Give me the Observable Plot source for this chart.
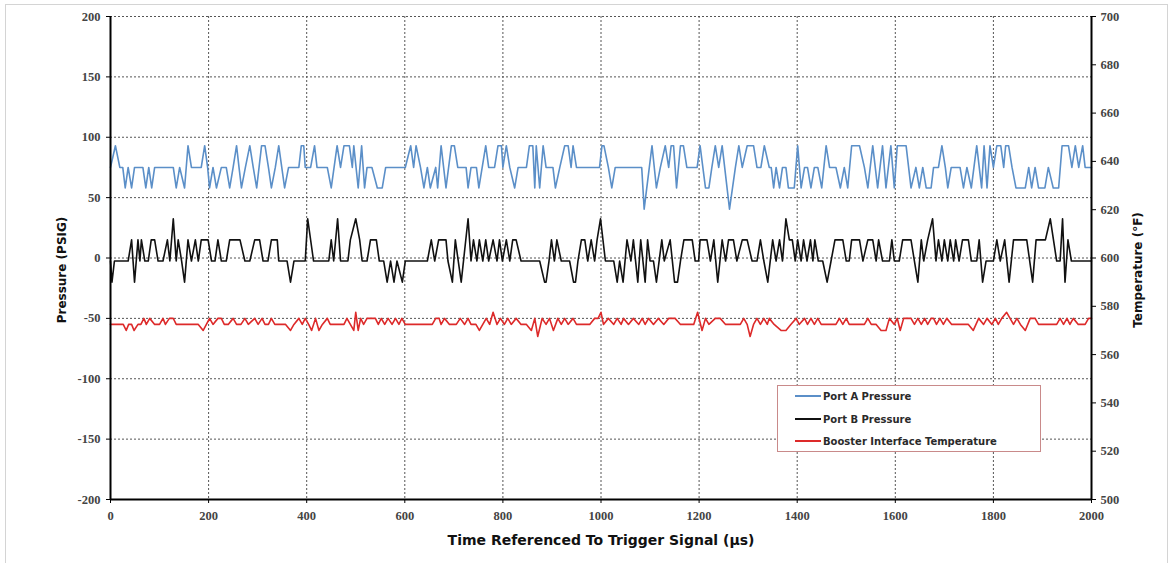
<!DOCTYPE html>
<html>
<head>
<meta charset="utf-8">
<script src="https://cdn.jsdelivr.net/npm/d3@7"></script>
<script src="https://cdn.jsdelivr.net/npm/@observablehq/plot@0.6"></script>
<style>
  html, body { margin: 0; padding: 0; background: #fff; }
  #wrap { position: relative; width: 1172px; height: 563px; overflow: hidden; }
  #frame { position: absolute; left: 5px; top: 4px; width: 1161px; height: 570px; border: 1px solid #d4d4d4; pointer-events: none; }
  #legend { position: absolute; left: 777px; top: 385px; width: 264px; height: 67px; background: #fff; border: 1px solid #c98a8a; box-sizing: border-box;
            font-family: "DejaVu Sans", Verdana, sans-serif; font-size: 10px; font-weight: bold; color: #2a2a2a; }
  .item { position: absolute; left: 17px; height: 12px; line-height: 12px; white-space: nowrap; }
  .sw { display: inline-block; width: 26px; height: 0; border-top: 2px solid; vertical-align: middle; margin-right: 2px; position: relative; top: -1px; }
</style>
</head>
<body>
<div id="wrap">
  <div id="chart"></div>
  <div id="frame"></div>
  <div id="legend"></div>
</div>
<script>
// ---- Data (time in µs, pressure in PSIG, temperature in °F), vertices ----
const seriesNames = ["Port A Pressure", "Port B Pressure", "Booster Interface Temperature"];
const seriesColors = ["#5b8fc8", "#111111", "#dd2a2a"];

const xTicks = [0, 200, 400, 600, 800, 1000, 1200, 1400, 1600, 1800, 2000];
const pressureTicks = [-200, -150, -100, -50, 0, 50, 100, 150, 200];
const temperatureTicks = [500, 520, 540, 560, 580, 600, 620, 640, 660, 680, 700];

const portA = [
  [0,75],[10,93],[19,75],[25,75],[30,58],[36,75],[43,58],[49,75],[66,75],[72,58],[78,75],[84,58],[90,75],
  [128,75],[134,58],[141,75],[151,58],[158,93],[165,75],[185,75],[192,93],[198,75],[202,58],[209,75],[216,58],
  [226,75],[236,75],[243,58],[250,75],[257,93],[262,75],[267,58],[275,75],[284,93],[291,75],[298,58],[308,93],
  [315,93],[322,75],[328,58],[336,75],[343,93],[355,58],[363,75],[384,75],[389,93],[394,93],[397,75],[408,75],
  [416,93],[421,75],[442,75],[450,58],[462,93],[469,75],[476,93],[487,93],[493,75],[496,93],[505,58],[512,93],
  [518,58],[523,75],[533,75],[544,58],[554,58],[561,75],[601,75],[612,93],[618,75],[623,93],[632,75],[639,58],
  [646,75],[652,58],[663,75],[667,58],[674,93],[684,58],[695,93],[701,93],[708,75],[725,75],[729,58],[735,75],
  [746,75],[751,58],[765,93],[771,75],[783,75],[790,93],[797,93],[800,75],[807,93],[814,75],[824,58],[831,75],
  [848,75],[854,93],[861,93],[865,58],[868,93],[875,58],[882,93],[888,75],[902,75],[907,58],[916,75],[926,93],
  [933,93],[939,75],[943,93],[950,75],[997,75],[1002,93],[1006,93],[1015,75],[1022,58],[1029,75],[1083,75],
  [1088,40.5],[1104,93],[1113,58],[1121,75],[1131,93],[1138,75],[1143,93],[1148,93],[1154,58],[1162,93],
  [1168,93],[1175,75],[1196,75],[1202,93],[1213,58],[1220,58],[1226,75],[1233,93],[1240,75],[1247,93],
  [1262,40.5],[1274,75],[1281,93],[1288,75],[1298,93],[1311,93],[1318,75],[1326,75],[1333,93],[1343,75],
  [1347,75],[1352,58],[1357,75],[1364,58],[1370,75],[1377,75],[1382,58],[1394,58],[1401,93],[1408,58],
  [1415,75],[1421,75],[1428,58],[1435,75],[1442,75],[1450,58],[1459,93],[1466,75],[1479,75],[1488,58],
  [1496,75],[1503,58],[1511,93],[1527,93],[1537,75],[1544,58],[1554,93],[1564,58],[1574,93],[1581,58],
  [1591,93],[1598,58],[1604,93],[1622,93],[1632,58],[1642,75],[1649,58],[1656,75],[1663,58],[1673,58],
  [1678,75],[1688,75],[1695,93],[1702,75],[1707,58],[1714,75],[1732,75],[1739,58],[1746,75],[1755,58],
  [1766,93],[1776,58],[1781,93],[1787,58],[1793,93],[1800,75],[1807,93],[1815,93],[1821,75],[1825,93],
  [1831,93],[1838,75],[1846,58],[1865,58],[1872,75],[1878,58],[1885,75],[1892,58],[1905,58],[1912,75],
  [1922,58],[1933,58],[1940,93],[1953,93],[1960,75],[1967,93],[1974,75],[1982,93],[1987,75],[2000,75]
];

const portB = [
  [0,-2.5],[3,-20],[8,-2.5],[36,-2.5],[43,15],[49,-20],[56,15],[60,-2.5],[63,15],[70,-2.5],[77,-2.5],[83,15],
  [90,15],[97,-2.5],[107,-2.5],[116,15],[121,-2.5],[128,32.5],[134,-2.5],[138,15],[145,-2.5],[151,-20],[158,15],
  [165,-2.5],[173,15],[179,-2.5],[185,15],[199,15],[206,-2.5],[213,-2.5],[219,15],[226,-2.5],[236,-2.5],[243,15],
  [264,15],[274,-2.5],[284,-2.5],[294,15],[304,15],[311,-2.5],[321,-2.5],[328,15],[340,15],[343,-2.5],[360,-2.5],
  [367,-20],[374,-2.5],[397,-2.5],[402,32.5],[414,-2.5],[445,-2.5],[450,15],[455,-2.5],[463,32.5],[469,-2.5],
  [484,-2.5],[489,15],[500,32.5],[508,15],[513,-2.5],[523,-2.5],[530,15],[542,15],[548,-2.5],[557,-2.5],[564,-20],
  [571,-2.5],[578,-20],[584,-2.5],[595,-20],[601,-2.5],[646,-2.5],[654,15],[661,-2.5],[669,15],[684,15],[688,-2.5],
  [697,-20],[703,15],[709,-2.5],[715,-20],[729,32.5],[735,-2.5],[740,15],[747,-2.5],[752,15],[759,-2.5],[765,15],
  [771,-2.5],[780,15],[788,-2.5],[793,15],[799,-2.5],[807,15],[814,-2.5],[820,15],[827,15],[837,-2.5],[875,-2.5],
  [885,-20],[888,-20],[894,-2.5],[899,15],[905,-2.5],[910,15],[919,-2.5],[936,-2.5],[944,-20],[948,-20],[953,-2.5],
  [960,15],[967,15],[973,-2.5],[980,15],[987,-2.5],[992,15],[999,32.5],[1009,-2.5],[1026,-2.5],[1033,-20],
  [1038,-2.5],[1045,-20],[1053,15],[1061,-2.5],[1066,15],[1075,-20],[1081,15],[1090,-20],[1095,15],[1100,-2.5],
  [1107,-2.5],[1113,-20],[1124,15],[1129,-2.5],[1141,15],[1150,-20],[1156,-20],[1162,-2.5],[1169,15],[1186,15],
  [1192,-2.5],[1199,-2.5],[1202,15],[1216,15],[1223,-2.5],[1230,15],[1238,-20],[1247,15],[1254,-2.5],[1260,15],
  [1270,15],[1277,-2.5],[1288,15],[1298,15],[1308,-2.5],[1318,-2.5],[1325,15],[1332,-2.5],[1340,-20],[1350,15],
  [1357,-2.5],[1364,15],[1370,-2.5],[1377,32.5],[1384,15],[1390,15],[1396,-2.5],[1401,15],[1408,-2.5],[1413,15],
  [1420,-2.5],[1427,15],[1432,-2.5],[1436,15],[1443,-2.5],[1452,-2.5],[1461,-20],[1469,-2.5],[1477,15],[1493,15],
  [1500,-2.5],[1506,-2.5],[1511,15],[1527,15],[1534,-2.5],[1544,15],[1554,15],[1561,-2.5],[1566,15],[1574,-2.5],
  [1588,-2.5],[1593,15],[1598,-2.5],[1608,-2.5],[1615,15],[1632,15],[1639,-2.5],[1646,-20],[1653,15],[1658,-2.5],
  [1666,15],[1676,32.5],[1683,-2.5],[1688,15],[1695,-2.5],[1700,15],[1707,-2.5],[1712,15],[1719,-2.5],[1723,15],
  [1730,-2.5],[1737,15],[1749,15],[1755,-2.5],[1766,-2.5],[1771,15],[1778,-20],[1785,-2.5],[1800,-2.5],[1807,15],
  [1814,-2.5],[1823,15],[1832,-20],[1841,15],[1868,15],[1880,-20],[1887,15],[1906,15],[1916,32.5],[1929,-2.5],
  [1936,-2.5],[1941,32.5],[1946,-20],[1952,15],[1959,-2.5],[2000,-2.5]
];

const boosterTempF = [
  [0,572.5],[26,572.5],[32,570],[37,572.5],[43,572.5],[48,570],[56,572.5],[62,572.5],[68,575],[73,572.5],[80,575],
  [90,572.5],[100,572.5],[107,575],[112,572.5],[120,575],[128,575],[134,572.5],[179,572.5],[189,570],[202,575],
  [209,572.5],[219,575],[226,575],[232,572.5],[240,572.5],[250,575],[257,572.5],[266,572.5],[274,575],[281,572.5],
  [294,575],[301,572.5],[309,575],[315,572.5],[322,572.5],[328,575],[335,572.5],[357,572.5],[367,570],[374,572.5],
  [384,575],[391,572.5],[397,575],[404,572.5],[410,570],[418,575],[425,570],[432,572.5],[442,575],[448,572.5],
  [476,572.5],[482,575],[489,572.5],[496,570],[500,577.5],[505,570],[510,575],[516,572.5],[523,575],[540,575],
  [546,572.5],[552,575],[559,572.5],[566,575],[574,572.5],[581,575],[588,572.5],[594,575],[601,572.5],[656,572.5],
  [663,575],[670,575],[674,572.5],[681,575],[691,572.5],[705,572.5],[713,575],[722,572.5],[729,575],[735,572.5],
  [745,572.5],[752,570],[766,575],[773,572.5],[780,577.5],[788,572.5],[795,575],[803,572.5],[810,575],[817,572.5],
  [827,575],[837,572.5],[848,572.5],[858,570],[865,575],[871,567.5],[880,575],[888,572.5],[895,575],[903,570],
  [912,575],[919,572.5],[926,575],[933,572.5],[943,575],[950,572.5],[977,572.5],[987,575],[994,575],[1000,577.5],
  [1005,572.5],[1015,575],[1026,572.5],[1033,575],[1041,572.5],[1046,575],[1056,572.5],[1066,575],[1077,572.5],
  [1084,575],[1090,572.5],[1097,575],[1107,572.5],[1117,575],[1128,572.5],[1138,575],[1151,575],[1162,572.5],
  [1189,572.5],[1197,577.5],[1206,570],[1213,575],[1220,572.5],[1233,575],[1243,575],[1254,572.5],[1284,572.5],
  [1291,575],[1298,572.5],[1304,567.5],[1311,572.5],[1318,575],[1325,572.5],[1332,575],[1339,572.5],[1343,575],
  [1353,572.5],[1367,570],[1377,570],[1387,572.5],[1398,575],[1404,572.5],[1415,575],[1421,572.5],[1428,575],
  [1435,572.5],[1442,575],[1449,572.5],[1479,572.5],[1486,575],[1493,572.5],[1500,575],[1506,572.5],[1537,572.5],
  [1544,575],[1551,572.5],[1561,572.5],[1571,570],[1581,570],[1588,575],[1598,572.5],[1604,575],[1610,570],
  [1617,575],[1632,575],[1639,572.5],[1646,575],[1653,572.5],[1660,575],[1666,572.5],[1673,575],[1678,575],
  [1684,572.5],[1691,575],[1698,572.5],[1705,575],[1715,572.5],[1749,572.5],[1759,570],[1770,575],[1780,572.5],
  [1787,575],[1797,572.5],[1804,575],[1810,572.5],[1817,575],[1827,577.5],[1834,575],[1841,572.5],[1848,575],
  [1855,572.5],[1865,570],[1875,575],[1885,575],[1892,572.5],[1929,572.5],[1936,575],[1943,572.5],[1950,575],
  [1956,572.5],[1963,575],[1973,572.5],[1987,572.5],[1994,575],[2000,575]
];

// Secondary axis mapping: 500..700 °F shares the frame with -200..200 PSIG
const tempToP = t => (t - 600) * 2;
const pToTemp = p => 600 + p / 2;

const tickFont = {fontFamily: "'Liberation Serif', 'DejaVu Serif', serif", fontWeight: "bold", fontSize: 12.5, fill: "#444"};
const titleFont = {fontFamily: "'DejaVu Sans', Verdana, sans-serif", fontWeight: "bold", fill: "#111", textAnchor: "middle"};

const chart = Plot.plot({
  width: 1172,
  height: 563,
  marginLeft: 110,
  marginRight: 81,
  marginTop: 16,
  marginBottom: 64,
  style: {fontFamily: "'Liberation Sans', Arial, sans-serif", background: "transparent", overflow: "visible"},
  x: {domain: [0, 2000]},
  y: {domain: [-200, 200]},
  marks: [
    Plot.gridY(pressureTicks.filter(d => d > -200), {stroke: "#555", strokeOpacity: 1, strokeWidth: 1, strokeDasharray: "2,2"}),
    Plot.gridX(xTicks.filter(d => d > 0 && d < 2000), {stroke: "#555", strokeOpacity: 1, strokeWidth: 1, strokeDasharray: "2,2"}),
    Plot.line(boosterTempF, {x: d => d[0], y: d => tempToP(d[1]), stroke: seriesColors[2], strokeWidth: 1.6}),
    Plot.line(portB, {x: d => d[0], y: d => d[1], stroke: seriesColors[1], strokeWidth: 1.6}),
    Plot.line(portA, {x: d => d[0], y: d => d[1], stroke: seriesColors[0], strokeWidth: 1.6}),
    Plot.axisY(pressureTicks, {anchor: "left", tickSize: 4, tickPadding: 6, label: null, stroke: "#000", tickFormat: d => String(d), ...tickFont}),
    Plot.axisY(temperatureTicks.map(tempToP), {anchor: "right", tickSize: 4, tickPadding: 5, label: null, tickFormat: p => String(pToTemp(p)), stroke: "#000", ...tickFont}),
    Plot.axisX(xTicks, {anchor: "bottom", tickSize: 4, tickPadding: 8, label: null, stroke: "#000", tickFormat: d => String(d), ...tickFont}),
    Plot.ruleX([0, 2000], {stroke: "#000", strokeWidth: 2}),
    Plot.ruleY([-200], {stroke: "#000", strokeWidth: 2}),
    Plot.text(["Pressure (PSIG)"], {text: d => d, frameAnchor: "left", dx: -48, dy: 12, rotate: -90, fontSize: 12, ...titleFont}),
    Plot.text(["Temperature (°F)"], {text: d => d, frameAnchor: "right", dx: 47, dy: 12, rotate: -90, fontSize: 12, ...titleFont}),
    Plot.text(["Time Referenced To Trigger Signal (µs)"], {text: d => d, frameAnchor: "bottom", dy: 45, fontSize: 14, ...titleFont})
  ]
});
document.getElementById("chart").appendChild(chart);

// Legend
const legend = document.getElementById("legend");
const tops = [5, 28, 50];
seriesNames.forEach((name, i) => {
  const item = document.createElement("div");
  item.className = "item";
  item.style.top = tops[i] + "px";
  const sw = document.createElement("span");
  sw.className = "sw";
  sw.style.borderColor = seriesColors[i];
  item.appendChild(sw);
  item.appendChild(document.createTextNode(name));
  legend.appendChild(item);
});
</script>
</body>
</html>
